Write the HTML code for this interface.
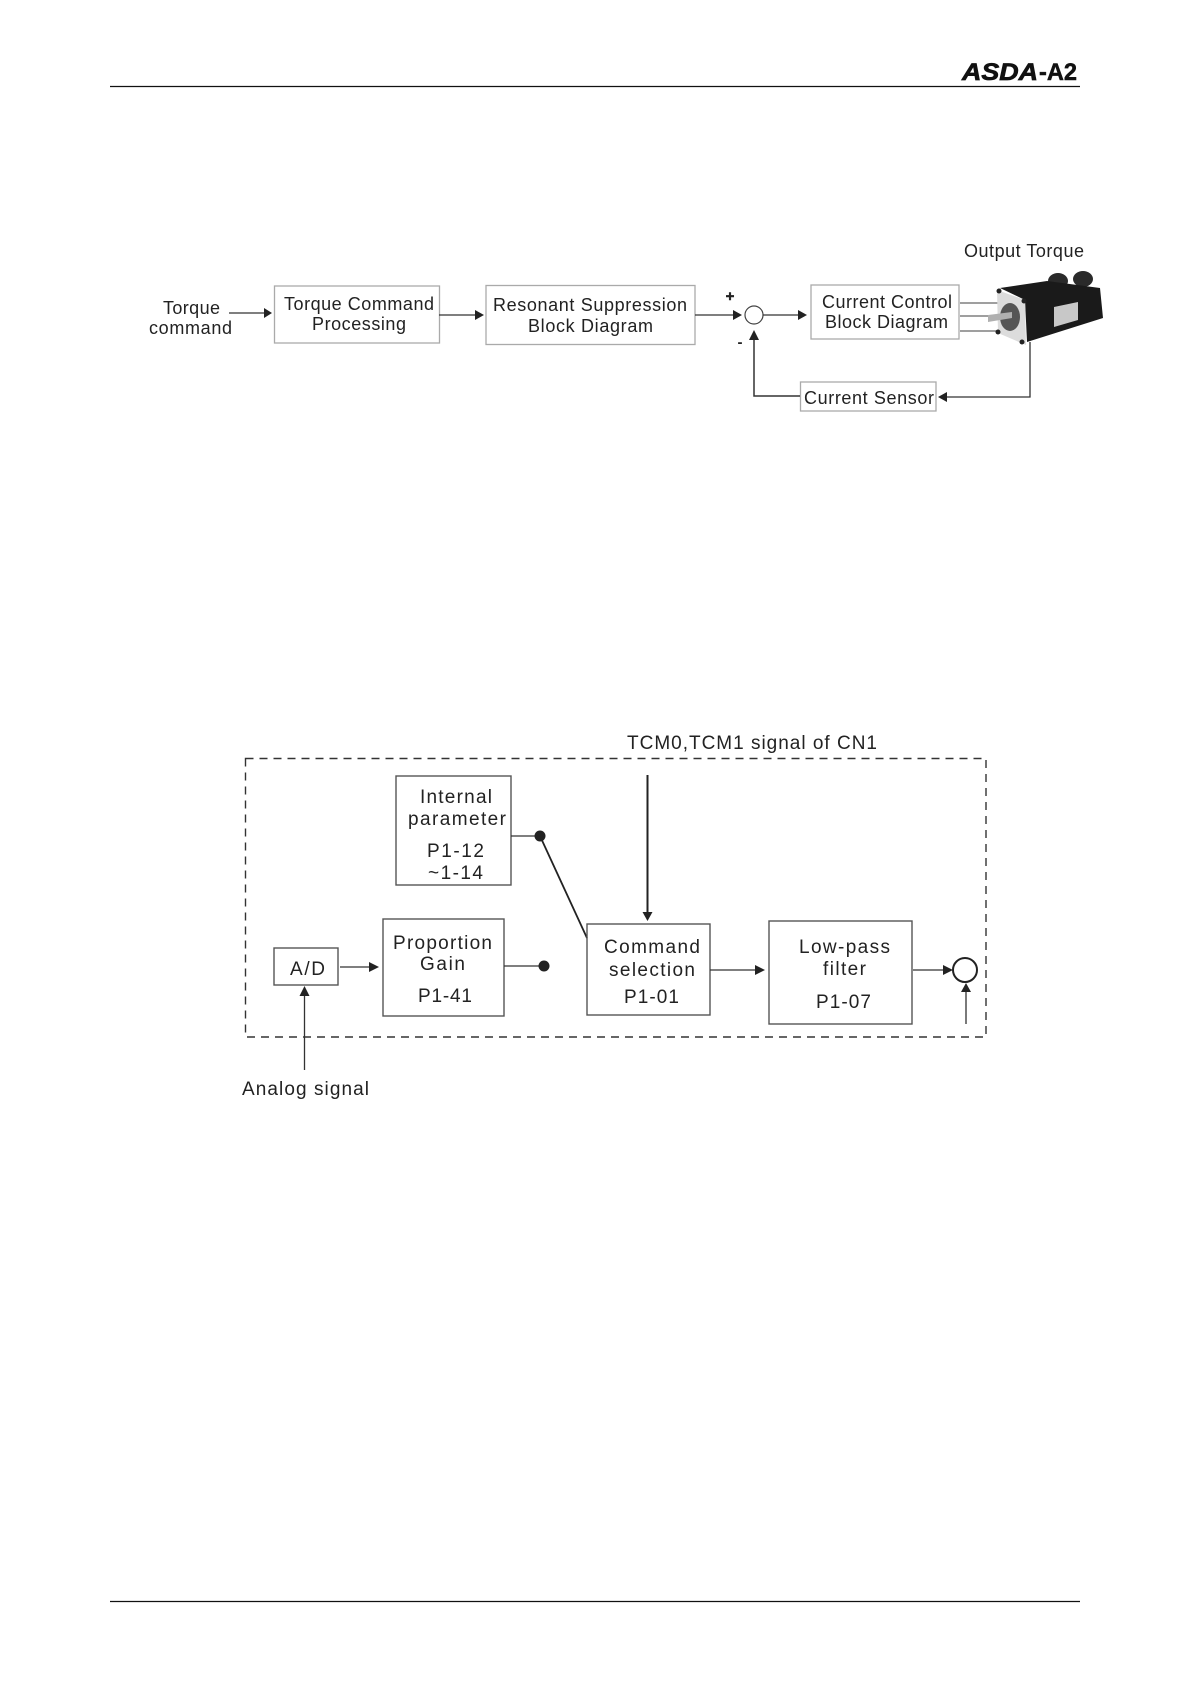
<!DOCTYPE html>
<html>
<head>
<meta charset="utf-8">
<style>
html,body{margin:0;padding:0;background:#fff;}
svg{display:block;}
text{font-family:"Liberation Sans",sans-serif;fill:#222;}
.t{font-size:19px;}
.s{font-size:18px;}
.b{fill:none;stroke:#555;stroke-width:1.4;}
.g{fill:none;stroke:#aaa;stroke-width:1.3;}
.l{stroke:#333;stroke-width:1.3;fill:none;}
.a{fill:#222;stroke:none;}
</style>
</head>
<body>
<svg width="1190" height="1684" viewBox="0 0 1190 1684" xmlns="http://www.w3.org/2000/svg">
<rect width="1190" height="1684" fill="#fff"/>

<!-- header / footer -->
<line x1="110" y1="86.500" x2="1080" y2="86.500" stroke="#111" stroke-width="1.2"/>
<line x1="110" y1="1601.500" x2="1080" y2="1601.500" stroke="#111" stroke-width="1.2"/>
<text x="962" y="80" font-size="24" font-weight="bold" font-style="italic" textLength="76" lengthAdjust="spacingAndGlyphs" style="fill:#111;stroke:#111;stroke-width:.7">ASDA</text>
<text x="1039" y="80" font-size="24" font-weight="bold" textLength="38" lengthAdjust="spacingAndGlyphs" style="fill:#111;stroke:#111;stroke-width:.5">-A2</text>

<!-- top diagram -->
<text class="s" x="163" y="314" textLength="57">Torque</text>
<text class="s" x="149" y="334" textLength="83">command</text>
<line class="l" x1="229" y1="313" x2="268" y2="313"/>
<polygon class="a" points="264,308 272,313 264,318"/>

<rect class="g" x="274.500" y="286" width="165" height="57"/>
<text class="s" x="284" y="310" textLength="150">Torque Command</text>
<text class="s" x="312" y="330" textLength="94">Processing</text>
<line class="l" x1="439" y1="315" x2="480" y2="315"/>
<polygon class="a" points="475,310 484,315 475,320"/>

<rect class="g" x="486" y="285.500" width="209" height="59"/>
<text class="s" x="493" y="311" textLength="194">Resonant Suppression</text>
<text class="s" x="528" y="332" textLength="125">Block Diagram</text>

<line class="l" x1="695" y1="315" x2="738" y2="315"/>
<polygon class="a" points="733,310 742,315 733,320"/>
<text x="730" y="301" font-size="15" font-weight="bold" text-anchor="middle" style="stroke:#222;stroke-width:.5">+</text>
<text x="740" y="347" font-size="15" font-weight="bold" text-anchor="middle">-</text>
<circle cx="754" cy="315" r="9" fill="none" stroke="#444" stroke-width="1.2"/>
<line class="l" x1="763" y1="315" x2="803" y2="315"/>
<polygon class="a" points="798,310 807,315 798,320"/>

<rect class="g" x="811" y="285" width="148" height="54"/>
<text class="s" x="822" y="308" textLength="130">Current Control</text>
<text class="s" x="825" y="328" textLength="123">Block Diagram</text>
<line class="l" x1="960" y1="303" x2="998" y2="303" style="stroke:#666"/>
<line class="l" x1="960" y1="316" x2="998" y2="316" style="stroke:#666"/>
<line class="l" x1="960" y1="331" x2="998" y2="331" style="stroke:#666"/>

<!-- motor -->
<ellipse cx="1058" cy="281" rx="10" ry="8" fill="#2a2a2a"/>
<ellipse cx="1083" cy="279" rx="10" ry="8" fill="#2a2a2a"/>
<polygon points="1000,288 1047,281 1100,288 1103,318 1027,342 1025,300" fill="#1a1a1a"/>
<polygon points="997,290 1025,300 1026,345 998,333" fill="#dcdcdc"/>
<ellipse cx="1010" cy="317" rx="10" ry="14" fill="#555"/>
<polygon points="988,315 1012,312 1012,318 988,322" fill="#b0b0b0"/>
<polygon points="1054,307 1078,302 1078,320 1054,327" fill="#c8c8c8"/>
<circle cx="999" cy="291" r="2.500" fill="#222"/>
<circle cx="1024" cy="301" r="2.500" fill="#222"/>
<circle cx="998" cy="332" r="2.500" fill="#222"/>
<circle cx="1022" cy="342" r="2.500" fill="#222"/>

<text class="s" x="964" y="257" textLength="120">Output Torque</text>
<polyline class="l" points="1030,342 1030,397 943,397"/>
<polygon class="a" points="947,392 938,397 947,402"/>

<rect class="g" x="800.500" y="382" width="135.500" height="29"/>
<text class="s" x="804" y="404" textLength="130">Current Sensor</text>
<polyline class="l" points="800,396 754,396 754,338" style="stroke-width:1.5"/>
<polygon class="a" points="749,340 754,330 759,340"/>

<!-- bottom diagram -->
<rect x="245.500" y="758.500" width="740.500" height="278.500" fill="none" stroke="#333" stroke-width="1.4" stroke-dasharray="8 6"/>

<text class="t" x="627" y="749" textLength="250">TCM0,TCM1 signal of CN1</text>
<line x1="647.500" y1="775" x2="647.500" y2="914" stroke="#222" stroke-width="2"/>
<polygon class="a" points="642.500,912 652.500,912 647.500,921"/>

<rect class="b" x="396" y="776" width="115" height="109"/>
<text class="t" x="420" y="803" textLength="72">Internal</text>
<text class="t" x="408" y="825" textLength="98">parameter</text>
<text class="t" x="427" y="857" textLength="57">P1-12</text>
<text class="t" x="428" y="879" textLength="55">~1-14</text>
<line class="l" x1="511" y1="836" x2="540" y2="836"/>
<circle cx="540" cy="836" r="5.500" fill="#222"/>
<line x1="540" y1="836" x2="587" y2="938" stroke="#222" stroke-width="1.8"/>

<rect class="b" x="383" y="919" width="121" height="97"/>
<text class="t" x="393" y="949" textLength="99">Proportion</text>
<text class="t" x="420" y="970" textLength="45">Gain</text>
<text class="t" x="418" y="1002" textLength="54">P1-41</text>
<line class="l" x1="504" y1="966" x2="544" y2="966"/>
<circle cx="544" cy="966" r="5.500" fill="#222"/>

<rect class="b" x="274" y="948" width="64" height="37"/>
<text class="t" x="290" y="975" textLength="35">A/D</text>
<line class="l" x1="340" y1="967" x2="372" y2="967"/>
<polygon class="a" points="369,962 379,967 369,972"/>
<line class="l" x1="304.500" y1="1070" x2="304.500" y2="992"/>
<polygon class="a" points="299.500,996 304.500,986 309.500,996"/>
<text class="t" x="242" y="1095" textLength="127">Analog signal</text>

<rect class="b" x="587" y="924" width="123" height="91"/>
<text class="t" x="604" y="953" textLength="96">Command</text>
<text class="t" x="609" y="976" textLength="86">selection</text>
<text class="t" x="624" y="1003" textLength="55">P1-01</text>
<line class="l" x1="710" y1="970" x2="758" y2="970"/>
<polygon class="a" points="755,965 765,970 755,975"/>

<rect class="b" x="769" y="921" width="143" height="103"/>
<text class="t" x="799" y="953" textLength="91">Low-pass</text>
<text class="t" x="823" y="975" textLength="43">filter</text>
<text class="t" x="816" y="1008" textLength="55">P1-07</text>
<line class="l" x1="913" y1="970" x2="946" y2="970"/>
<polygon class="a" points="943,965 953,970 943,975"/>
<circle cx="965" cy="970" r="12" fill="none" stroke="#222" stroke-width="2"/>
<line class="l" x1="966" y1="1024" x2="966" y2="988"/>
<polygon class="a" points="961,992 966,983 971,992"/>
</svg>
</body>
</html>
